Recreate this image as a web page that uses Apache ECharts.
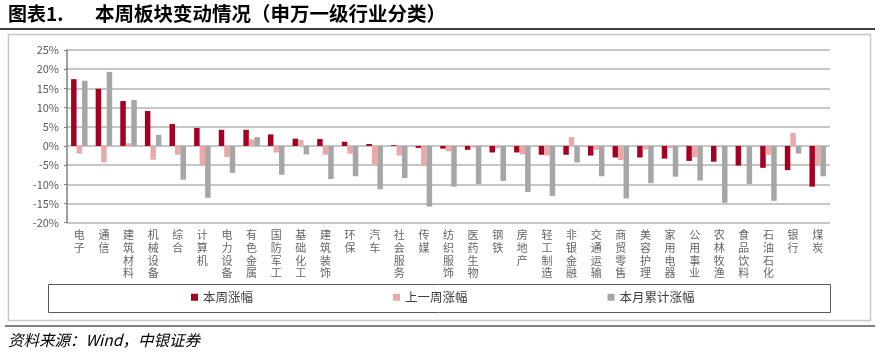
<!DOCTYPE html>
<html><head><meta charset="utf-8">
<script src="https://cdn.jsdelivr.net/npm/echarts@6/dist/echarts.min.js"></script>
<style>html,body{margin:0;padding:0;background:#fff}#c{width:880px;height:353px}</style>
</head><body><div id="c"></div>
<script>
const categories = ['电子','通信','建筑材料','机械设备','综合','计算机','电力设备','有色金属','国防军工','基础化工','建筑装饰','环保','汽车','社会服务','传媒','纺织服饰','医药生物','钢铁','房地产','轻工制造','非银金融','交通运输','商贸零售','美容护理','家用电器','公用事业','农林牧渔','食品饮料','石油石化','银行','煤炭'];
const thisWeek = [17.4,14.9,11.7,9.1,5.7,4.7,4.2,4.2,3.0,1.9,1.8,1.1,0.5,0.2,-0.5,-0.7,-1.0,-1.7,-1.7,-2.3,-2.3,-2.5,-3.0,-3.0,-3.3,-3.9,-4.1,-5.1,-5.7,-6.3,-10.6];
const lastWeek = [-2.0,-4.3,0.7,-3.6,-2.3,-5.0,-2.9,1.7,-1.7,1.6,-2.3,-2.0,-4.7,-2.5,-5.1,-1.4,-0.4,-0.6,-2.2,-2.5,2.3,-1.0,-3.7,-0.9,-0.6,-2.9,-0.3,-0.1,-2.3,3.4,-4.9];
const monthCum = [17.0,19.3,12.0,2.9,-8.8,-13.5,-7.0,2.3,-7.5,-2.2,-8.6,-7.9,-11.3,-8.4,-15.8,-10.6,-9.9,-9.1,-12.0,-13.0,-4.3,-7.9,-13.7,-9.7,-8.0,-9.0,-14.8,-9.9,-14.3,-2.0,-7.9];
const seriesNames = ['本周涨幅','上一周涨幅','本月累计涨幅'];
const title = '图表1.';
const subtitle = '本周板块变动情况（申万一级行业分类）';
const source = '资料来源：Wind，中银证券';

const FONT = '"Noto Sans CJK SC", sans-serif';
const chart = echarts.init(document.getElementById('c'));
const colors = ['#a50021','#eaa9a9','#a6a6a6'];
const vals = [thisWeek, lastWeek, monthCum];
chart.setOption({
  animation: false,
  textStyle: {fontFamily: FONT},
  graphic: [
    {type:'text', left:8, top:4, style:{text:title, font:'bold 19px ' + FONT, fill:'#000'}},
    {type:'text', left:95, top:4, style:{text:subtitle, font:'bold 19.5px ' + FONT, fill:'#000'}},
    {type:'line', shape:{x1:0,y1:29,x2:875,y2:29}, style:{stroke:'#404040', lineWidth:2}},
    {type:'rect', shape:{x:8.5,y:34.5,width:862,height:286}, style:{fill:'none', stroke:'#c8c8c8', lineWidth:1.5}},
    {type:'rect', shape:{x:48.5,y:284.5,width:782,height:28}, style:{fill:'none', stroke:'#595959', lineWidth:1}},
    {type:'line', shape:{x1:5,y1:326,x2:875,y2:326}, style:{stroke:'#808080', lineWidth:2}},
    {type:'text', left:8, top:332, style:{text:source, font:'italic 15.5px ' + FONT, fill:'#000'}}
  ],
  legend: {
    data: seriesNames, left:191, top:291, padding:0, itemGap:140, itemWidth:7, itemHeight:7,
    icon:'rect', textStyle:{fontSize:12.5, color:'#404040', fontFamily:FONT}
  },
  grid: {left:67, right:50, top:50, bottom:130.3, containLabel:false},
  xAxis: {
    type:'category', data:categories,
    axisLine:{show:false}, axisTick:{show:false},
    axisLabel:{interval:0, fontSize:11, lineHeight:12.7, color:'#666666', margin:6,
      formatter: v => v.split('').join('\n'), verticalAlign:'top'}
  },
  yAxis: {
    type:'value', min:-20, max:25, interval:5,
    axisLine:{show:true, lineStyle:{color:'#7f7f7f', width:1.5}},
    axisTick:{show:true, length:3, lineStyle:{color:'#7f7f7f'}},
    axisLabel:{formatter:'{value}%', fontSize:11, color:'#595959', margin:8},
    splitLine:{lineStyle:{color:'#b3b3b3', width:1.5}}
  },
  series: seriesNames.map((n,i)=>({
    name:n, type:'bar', data:vals[i], barWidth:5.5, barGap:'0%',
    itemStyle:{color:colors[i]}
  }))
});
</script></body></html>
